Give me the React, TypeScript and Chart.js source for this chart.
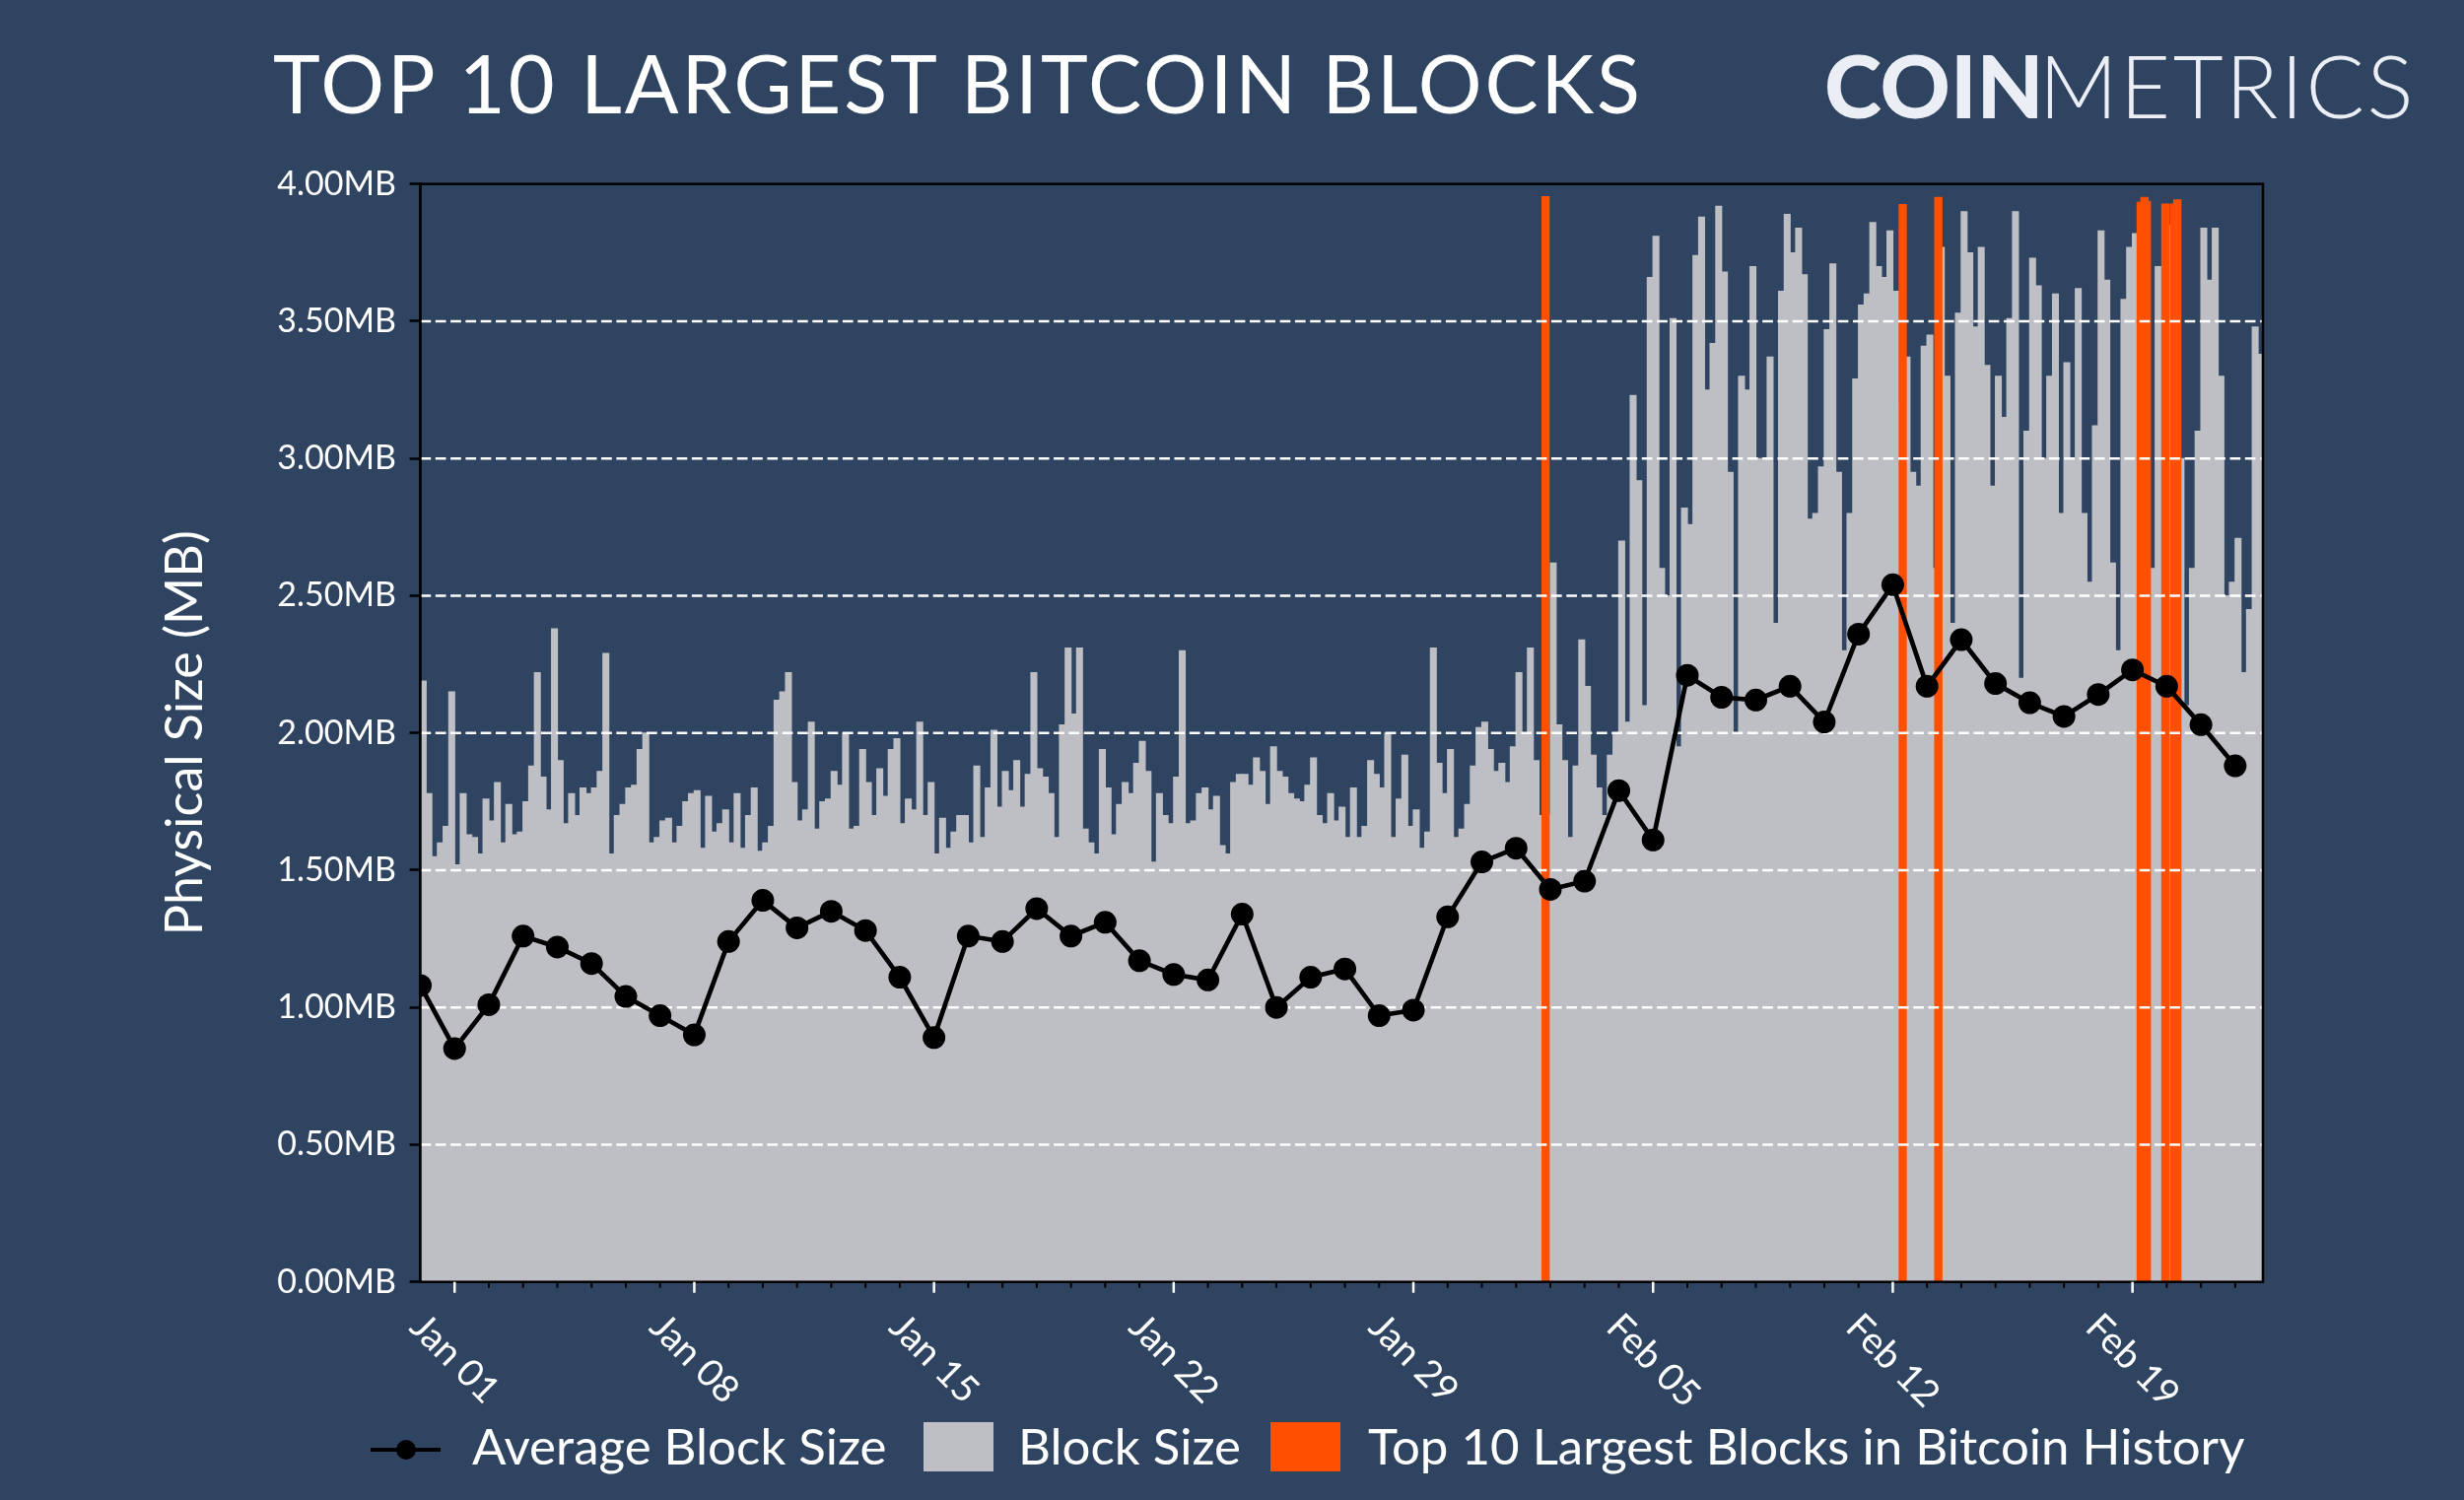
import { useEffect, useRef } from "react";
import { Chart, registerables } from "chart.js";

Chart.register(...registerables);

// daily average block size (MB), one point per day starting Dec 31
const avgBlockSize = [
  1.08, 0.85, 1.01, 1.26, 1.22, 1.16, 1.04, 0.97, 0.9, 1.24,
  1.39, 1.29, 1.35, 1.28, 1.11, 0.89, 1.26, 1.24, 1.36, 1.26,
  1.31, 1.17, 1.12, 1.1, 1.34, 1.0, 1.11, 1.14, 0.97, 0.99,
  1.33, 1.53, 1.58, 1.43, 1.46, 1.79, 1.61, 2.21, 2.13, 2.12,
  2.17, 2.04, 2.36, 2.54, 2.17, 2.34, 2.18, 2.11, 2.06, 2.14,
  2.23, 2.17, 2.03, 1.88,
];

// block sizes (MB) in 4-hour bins, 6 bins per day, starting Dec 31
const blockSizeWeek1 = [
  2.19, 1.78, 1.55, 1.6, 1.66, 2.15, 1.52, 1.78, 1.63, 1.62, 1.56, 1.76,
  1.68, 1.82, 1.6, 1.74, 1.63, 1.64, 1.75, 1.88, 2.22, 1.84, 1.72, 2.38,
  1.9, 1.67, 1.78, 1.7, 1.8, 1.78, 1.8, 1.86, 2.29, 1.56, 1.7, 1.74,
  1.8, 1.81, 1.94, 2.0, 1.6, 1.62,
];
const blockSizeWeek2 = [
  1.68, 1.69, 1.6, 1.66, 1.75, 1.78, 1.79, 1.58, 1.77, 1.64, 1.67, 1.72,
  1.6, 1.78, 1.58, 1.7, 1.8, 1.57, 1.6, 1.66, 2.12, 2.15, 2.22, 1.82,
  1.68, 1.72, 2.04, 1.65, 1.75, 1.76, 1.86, 1.81, 2.0, 1.65, 1.66, 1.94,
  1.82, 1.7, 1.87, 1.77, 1.94, 1.98,
];
const blockSizeWeek3 = [
  1.67, 1.76, 1.72, 2.04, 1.7, 1.82, 1.56, 1.69, 1.58, 1.64, 1.7, 1.7,
  1.6, 1.88, 1.62, 1.8, 2.01, 1.73, 1.86, 1.79, 1.9, 1.73, 1.85, 2.22,
  1.87, 1.84, 1.78, 1.62, 2.03, 2.31, 2.07, 2.31, 1.65, 1.6, 1.56, 1.94,
  1.8, 1.63, 1.74, 1.82, 1.78, 1.89,
];
const blockSizeWeek4 = [
  1.97, 1.86, 1.53, 1.78, 1.7, 1.67, 1.84, 2.3, 1.67, 1.68, 1.78, 1.8,
  1.72, 1.77, 1.59, 1.56, 1.82, 1.85, 1.85, 1.81, 1.91, 1.86, 1.74, 1.95,
  1.86, 1.84, 1.78, 1.76, 1.75, 1.81, 1.91, 1.7, 1.67, 1.78, 1.68, 1.73,
  1.62, 1.8, 1.62, 1.66, 1.9, 1.85,
];
const blockSizeWeek5 = [
  1.8, 2.0, 1.62, 1.76, 1.92, 1.66, 1.72, 1.58, 1.64, 2.31, 1.89, 1.78,
  1.94, 1.62, 1.65, 1.74, 1.88, 2.02, 2.04, 1.94, 1.86, 1.89, 1.82, 1.95,
  2.22, 2.0, 2.31, 1.9, 1.7, 1.7, 2.62, 2.03, 1.9, 1.62, 1.88, 2.34,
  2.17, 1.92, 1.8, 1.7, 1.92, 2.0,
];
const blockSizeWeek6 = [
  2.7, 2.04, 3.23, 2.92, 2.1, 3.66, 3.81, 2.6, 2.5, 3.51, 1.95, 2.82,
  2.76, 3.74, 3.88, 3.25, 3.42, 3.92, 3.68, 2.95, 2.0, 3.3, 3.25, 3.7,
  3.0, 3.0, 3.37, 2.4, 3.61, 3.89, 3.75, 3.84, 3.67, 2.78, 2.8, 2.97,
  3.47, 3.71, 2.95, 2.3, 2.8, 3.29,
];
const blockSizeWeek7 = [
  3.56, 3.6, 3.86, 3.7, 3.66, 3.83, 3.61, 3.2, 3.37, 2.95, 2.9, 3.41,
  3.45, 2.6, 3.77, 3.3, 2.4, 3.53, 3.9, 3.75, 3.48, 3.77, 3.34, 2.9,
  3.3, 3.15, 3.51, 3.9, 2.2, 3.1, 3.73, 3.63, 3.0, 3.3, 3.6, 2.8,
  3.35, 3.0, 3.62, 2.8, 2.55, 3.12,
];
const blockSizeWeek8 = [
  3.83, 3.65, 2.62, 2.3, 3.58, 3.77, 3.82, 3.6, 3.6, 2.6, 3.7, 3.4,
  3.85, 3.5, 3.0, 2.1, 2.6, 3.1, 3.84, 3.65, 3.84, 3.3, 2.5, 2.55,
  2.71, 2.22, 2.45, 3.48, 3.38,
];

// top 10 largest blocks: time (days after Dec 31) and size (MB)
const top10Days = [32.86, 43.29, 44.33, 50.24, 50.3, 50.35, 50.42, 50.96, 51.21, 51.31];
const top10Sizes = [3.955, 3.926, 3.952, 3.934, 3.93, 3.952, 3.938, 3.928, 3.928, 3.943];

// x axis
const tickDays = [1, 8, 15, 22, 29, 36, 43, 50];
const tickLabels = ["Jan 01", "Jan 08", "Jan 15", "Jan 22", "Jan 29", "Feb 05", "Feb 12", "Feb 19"];
const lastDay = 53;
const xMax = 53.81;
const binsPerDay = 6;

const BG = "#2f4461";
const GREY = "#bebfc4";
const ORANGE = "#ff4f00";

const blockSizes = [
  ...blockSizeWeek1,
  ...blockSizeWeek2,
  ...blockSizeWeek3,
  ...blockSizeWeek4,
  ...blockSizeWeek5,
  ...blockSizeWeek6,
  ...blockSizeWeek7,
  ...blockSizeWeek8,
];

const axisDecor = {
  id: "axisDecor",
  // dashed grid goes above the bars but under the average line
  beforeDatasetDraw(chart: any, args: any) {
    if (args.index !== 0) return;
    const { ctx, chartArea: a, scales } = chart;
    ctx.save();
    ctx.strokeStyle = "#ffffff";
    ctx.lineWidth = 2.6;
    ctx.setLineDash([10.7, 4.6]);
    scales.y.ticks.forEach((t: any) => {
      if (t.value <= 0 || t.value >= 4) return;
      const py = scales.y.getPixelForValue(t.value);
      ctx.beginPath();
      ctx.moveTo(a.left, py);
      ctx.lineTo(a.right, py);
      ctx.stroke();
    });
    ctx.restore();
  },
  afterDatasetsDraw(chart: any) {
    const { ctx, chartArea: a } = chart;
    ctx.save();
    ctx.strokeStyle = "#000";
    ctx.lineWidth = 2.5;
    ctx.strokeRect(a.left, a.top, a.right - a.left, a.bottom - a.top);
    ctx.restore();
  },
  afterDraw(chart: any) {
    const { ctx, chartArea: a, scales } = chart;
    const x = scales.x;
    ctx.save();
    // minor (daily) and major (weekly) tick marks
    for (let d = 1; d <= lastDay; d++) {
      const px = x.getPixelForValue(d);
      const major = tickDays.includes(d);
      ctx.strokeStyle = major ? "#ffffff" : "#000000";
      ctx.lineWidth = major ? 2.5 : 2;
      ctx.beginPath();
      ctx.moveTo(px, a.bottom);
      ctx.lineTo(px, a.bottom + (major ? 11 : 6));
      ctx.stroke();
    }
    // rotated labels, centred under the tick
    const fs = 38;
    ctx.font = `${fs}px Lato`;
    ctx.fillStyle = "#ffffff";
    ctx.textAlign = "center";
    ctx.textBaseline = "middle";
    tickDays.forEach((d, i) => {
      const label = tickLabels[i];
      const w = ctx.measureText(label).width;
      const box = (w + fs) * Math.SQRT1_2;
      const px = x.getPixelForValue(d);
      ctx.save();
      ctx.translate(px, a.bottom + 26 + box / 2);
      ctx.rotate(Math.PI / 4);
      ctx.fillText(label, 0, 0);
      ctx.restore();
    });
    ctx.restore();
  },
};

const BlockChart = () => {
  const chartRef = useRef<HTMLCanvasElement>(null);

  useEffect(() => {
    if (!chartRef.current) return;
    const ctx = chartRef.current.getContext("2d");
    if (!ctx) return;
    Chart.defaults.font.family = "Lato";

    const chart = new Chart(ctx, {
      type: "bar",
      data: {
        datasets: [
          {
            type: "line",
            label: "Average Block Size",
            data: avgBlockSize.map((v, i) => ({ x: i, y: v })),
            borderColor: "#000",
            backgroundColor: "#000",
            borderWidth: 4.7,
            pointRadius: 11.5,
            pointBorderWidth: 0,
            pointBackgroundColor: "#000",
            tension: 0,
            order: 0,
          } as any,
          {
            type: "bar",
            label: "Top 10 Largest Blocks in Bitcoin History",
            data: top10Days.map((d, i) => ({ x: d, y: top10Sizes[i] })),
            backgroundColor: ORANGE,
            borderWidth: 0,
            barThickness: 7.7,
            grouped: false,
            order: 1,
          } as any,
          {
            type: "bar",
            label: "Block Size",
            data: blockSizes.map((v, i) => ({ x: (i + 0.5) / binsPerDay, y: v })),
            backgroundColor: GREY,
            borderWidth: 0,
            barThickness: 6.4,
            grouped: false,
            order: 2,
          } as any,
        ],
      },
      options: {
        responsive: false,
        animation: false,
        layout: { padding: { left: 0, right: 204, top: 186.7, bottom: 221.3 } },
        plugins: {
          legend: { display: false },
          tooltip: { enabled: false },
        },
        scales: {
          x: {
            type: "linear",
            min: 0,
            max: xMax,
            offset: false,
            display: false,
          },
          y: {
            type: "linear",
            min: 0,
            max: 4,
            position: "left",
            ticks: {
              stepSize: 0.5,
              color: "#ffffff",
              font: { size: 34 },
              padding: 13.5,
              callback: (v: any) => `${Number(v).toFixed(2)}MB`,
            },
            grid: {
              drawOnChartArea: false,
              drawTicks: true,
              tickLength: 11,
              tickColor: "#000",
              tickWidth: 2.5,
            },
            border: { display: true, color: "#000", width: 2.5 },
            title: {
              display: true,
              text: "Physical Size (MB)",
              color: "#ffffff",
              font: { size: 52 },
              padding: { top: 156.8, bottom: 0 },
            },
            afterFit: (scale: any) => {
              scale.width = 426.5;
            },
          },
        },
      },
      plugins: [axisDecor],
    });

    return () => {
      chart.destroy();
    };
  }, []);

  return (
    <canvas
      ref={chartRef}
      width={2500}
      height={1522}
      style={{ position: "absolute", left: 0, top: 0 }}
    ></canvas>
  );
};

const legendText = {
  position: "absolute" as const,
  top: 1440.5,
  fontSize: 51,
  lineHeight: "51px",
  color: "#ffffff",
  whiteSpace: "nowrap" as const,
};

const App = () => {
  useEffect(() => {
    document.body.style.margin = "0";
  }, []);

  return (
    <div
      style={{
        position: "absolute",
        left: 0,
        top: 0,
        width: 2500,
        height: 1522,
        background: BG,
        fontFamily: "Lato, sans-serif",
        overflow: "hidden",
      }}
    >
      <BlockChart />
      <div
        style={{
          position: "absolute",
          left: 277,
          top: 43,
          fontSize: 81,
          lineHeight: "81px",
          letterSpacing: 2.9,
          color: "#ffffff",
          whiteSpace: "nowrap",
        }}
      >
        TOP 10 LARGEST BITCOIN BLOCKS
      </div>
      <div
        style={{
          position: "absolute",
          left: 1851,
          top: 42,
          fontSize: 88,
          lineHeight: "88px",
          color: "#eceef6",
          whiteSpace: "nowrap",
        }}
      >
        <span style={{ fontWeight: 900 }}>COIN</span>
        <span style={{ fontWeight: 300, letterSpacing: 2.5, marginLeft: -5 }}>METRICS</span>
      </div>

      {/* legend */}
      <div style={{ position: "absolute", left: 376, top: 1468.6, width: 71, height: 4, background: "#000" }} />
      <div
        style={{
          position: "absolute",
          left: 401.5,
          top: 1460.6,
          width: 20,
          height: 20,
          borderRadius: "50%",
          background: "#000",
        }}
      />
      <div style={{ ...legendText, left: 479 }}>Average Block Size</div>
      <div style={{ position: "absolute", left: 937, top: 1443, width: 71, height: 50, background: GREY }} />
      <div style={{ ...legendText, left: 1033 }}>Block Size</div>
      <div style={{ position: "absolute", left: 1289, top: 1443, width: 71, height: 50, background: ORANGE }} />
      <div style={{ ...legendText, left: 1388 }}>Top 10 Largest Blocks in Bitcoin History</div>
    </div>
  );
};

export default App;
